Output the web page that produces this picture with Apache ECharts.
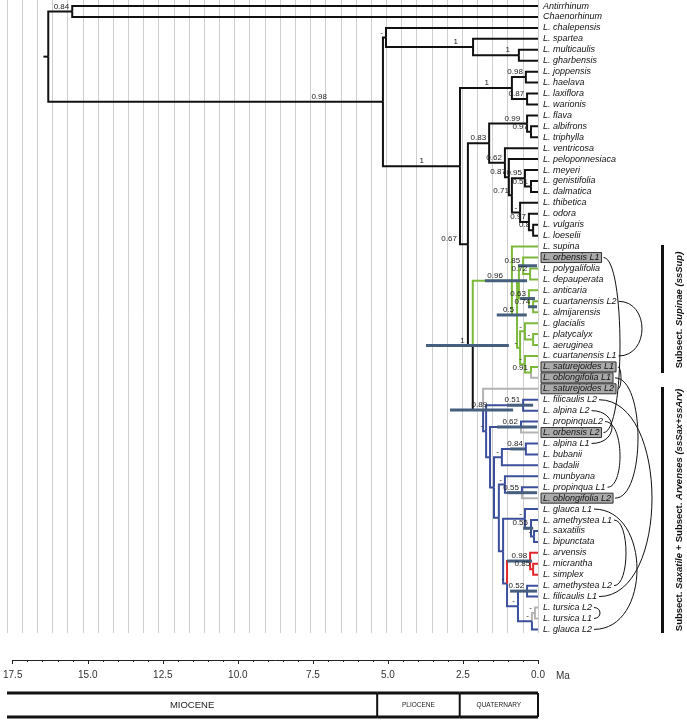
<!DOCTYPE html>
<html><head><meta charset="utf-8">
<script src="https://cdn.jsdelivr.net/npm/echarts@6/dist/echarts.min.js"></script>
<style>html,body{margin:0;padding:0;background:#fff}#c{width:687px;height:722px}</style>
</head><body><div id="c"></div>
<script>
// ---------------- DATA ----------------
const tipNames = ['Antirrhinum','Chaenorhinum','L. chalepensis','L. spartea','L. multicaulis','L. gharbensis','L. joppensis','L. haelava','L. laxiflora','L. warionis','L. flava','L. albifrons','L. triphylla','L. ventricosa','L. peloponnesiaca','L. meyeri','L. genistifolia','L. dalmatica','L. thibetica','L. odora','L. vulgaris','L. loeselii','L. supina','L. orbensis L1','L. polygalifolia','L. depauperata','L. anticaria','L. cuartanensis L2','L. almijarensis','L. glacialis','L. platycalyx','L. aeruginea','L. cuartanensis L1','L. saturejoides L1','L. oblongifolia L1','L. saturejoides L2','L. filicaulis L2','L. alpina L2','L. propinquaL2','L. orbensis L2','L. alpina L1','L. bubanii','L. badalii','L. munbyana','L. propinqua L1','L. oblongifolia L2','L. glauca L1','L. amethystea L1','L. saxatilis','L. bipunctata','L. arvensis','L. micrantha','L. simplex','L. amethystea L2','L. filicaulis L1','L. tursica L2','L. tursica L1','L. glauca L2'];
const boxedTips = [23,33,34,35,39,45];
// internal nodes: [id, first child, second child, age (Ma)]; numeric children are tip indices
const nodes = [
 ['root','B','C',16.14], ['B',0,1,15.35], ['C','D','E',5.11], ['D',2,'F',5.01], ['F',3,'G',2.14], ['G',4,5,0.63],
 ['E','H','J',2.57], ['H','H1','H2',0.86], ['H1',6,7,0.40], ['H2',8,9,0.36],
 ['J','K','L',2.31], ['K','FAT','M',1.61], ['FAT',10,'AT',0.36], ['AT',11,12,0.23],
 ['M',13,'P',1.09], ['P',14,'Q',0.96], ['Q','R','S',0.86], ['R',15,'T',0.43], ['T',16,17,0.23],
 ['S',18,'U',0.59], ['U',19,'V',0.30], ['V',20,21,0.16],
 ['L','G0','N0',2.15], ['G0',22,'X',0.86], ['X','A13','A4',0.69], ['A13','A1','A3',0.63],
 ['A1',23,'A1b',0.49], ['A1b',24,25,0.26], ['A3',26,'A3b',0.30], ['A3b',27,28,0.16],
 ['A4','A4a','A4b',0.59], ['A4a',29,'A4a2',0.43], ['A4a2',30,31,0.16], ['A4b',32,'A4b2',0.43], ['A4b2',33,34,0.23],
 ['N0',35,'N1',1.81], ['N1','B2','N2',1.71], ['B2',36,37,0.49], ['N2','B4','N3',1.58], ['B4',38,39,0.56],
 ['N3','Q1','N4',1.45], ['Q1','B6',42,1.19], ['B6',40,41,0.40], ['N4','Q2','N5',1.29], ['Q2',43,'B8',1.09], ['B8',44,45,0.53],
 ['N5','GA','W2',1.15], ['GA',46,'AM',0.43], ['AM',47,'SB',0.23], ['SB',48,49,0.13],
 ['W2','AR','W1',1.02], ['AR',50,'RS',0.26], ['RS',51,52,0.16], ['W1','B13','TG',0.66], ['B13',53,54,0.36], ['TG','TT',57,0.20], ['TT',55,56,0.10]
];
const rootStemAge = 16.30;
const support = {B:'0.84',C:'0.98',D:'-',F:'1',G:'1',E:'1',H:'1',H1:'0.98',H2:'0.87',J:'0.67',K:'0.83',FAT:'0.99',AT:'0.97',
 M:'0.62',P:'0.87',Q:'0.71',R:'0.95',T:'0.51',S:'-',U:'0.97',V:'0.8',L:'1',G0:'0.96',X:'0.5',A1:'0.85',A1b:'0.72',A3:'0.63',A3b:'0.74',
 A4:'-',A4a:'-',A4a2:'-',A4b:'-',A4b2:'0.91',N0:'0.89',N1:'-',B2:'0.51',B4:'0.62',Q1:'-',B6:'0.84',Q2:'-',B8:'0.55',GA:'-',AM:'0.55',SB:'-',
 W2:'-',AR:'0.98',RS:'0.85',W1:'-',B13:'0.52',TG:'-',TT:'-'};
// 95% HPD bars: [node, older bound (Ma), younger bound (Ma)]
const hpdBars = [['L',3.69,0.96],['G0',1.75,0.36],['X',1.36,0.37],['A1',0.66,0.03],['A3',0.59,0.10],['A3b',0.33,0.03],
 ['N0',2.90,0.82],['B2',1.02,0.16],['B4',1.35,0.03],['B6',0.92,0.43],['B8',1.02,0.03],['AM',0.49,0.16],['AR',1.02,0.20],['B13',0.92,0.03]];
// pairs of accessions of the same species
const arcPairs = [[23,39],[27,32],[33,35],[34,45],[36,54],[37,40],[38,44],[46,57],[47,53],[55,56]];
const epochNames = ['MIOCENE','PLIOCENE','QUATERNARY'];
const epochStart = [17.5,5.3,2.58];
const epochEnd = [5.3,2.58,0];

// ---------------- STYLE ----------------
const COL = {black:'#111111', gray:'#b4b4b4', green:'#7cb83a', blue:'#3c4f9c', red:'#e3262b'};
const greenSet = ['G0','X','A13','A1','A1b','A3','A3b','A4','A4a','A4a2','A4b','A4b2',22,23,24,25,26,27,28,29,30,31,32,33];
const graySet = [34,35,39,45,55,56,'TT'];
const redSet = ['AR','RS',50,51,52];
const blueSet = ['N1','B2','N2','B4','N3','Q1','B6','N4','Q2','B8','N5','GA','AM','SB','W2','W1','B13','TG',36,37,38,40,41,42,43,44,46,47,48,49,53,54,57];
const labelDx = {C:56,E:36,F:15,G:9,H:23,J:11,L:8,G0:9,N0:-4,FAT:7};
const arcReach = [620,642,621,638,652,612,620,637,626,600];
const FONT = '"Liberation Sans", Arial, sans-serif';

// ---------------- LAYOUT (from data) ----------------
const key = c => typeof c === 'number' ? 't' + c : c;
const pos = {};
tipNames.forEach((n, i) => pos['t' + i] = {age: 0, y: i});
const nodeMap = {}; nodes.forEach(n => nodeMap[n[0]] = n);
const parentOf = {};
nodes.forEach(n => { parentOf[key(n[1])] = n[0]; parentOf[key(n[2])] = n[0]; });
function place(id) {
  if (pos[id]) return pos[id];
  const n = nodeMap[id];
  const a = place(key(n[1])), b = place(key(n[2]));
  pos[id] = {age: n[3], y: (a.y + b.y) / 2};
  return pos[id];
}
place('root');
const colorOf = {};
greenSet.forEach(k => colorOf[key(k)] = 'green');
graySet.forEach(k => colorOf[key(k)] = 'gray');
redSet.forEach(k => colorOf[key(k)] = 'red');
blueSet.forEach(k => colorOf[key(k)] = 'blue');
const branchGroups = {black: [], gray: [], green: [], blue: [], red: []};
Object.keys(parentOf).forEach(id => {
  const p = pos[parentOf[id]], c = pos[id];
  branchGroups[colorOf[id] || 'black'].push([c.age, c.y, p.age, p.y]);
});
branchGroups.black.push([pos.root.age, pos.root.y, rootStemAge, pos.root.y]);

const mctx = document.createElement('canvas').getContext('2d');
mctx.font = 'italic 9px ' + FONT;
const tipW = tipNames.map(t => mctx.measureText(t).width);

function branchSeries(name) {
  return {
    type: 'custom', xAxisIndex: 0, yAxisIndex: 0, clip: false, z: 2,
    data: branchGroups[name],
    renderItem: (params, api) => {
      const c = api.coord([api.value(0), api.value(1)]);
      const p = api.coord([api.value(2), api.value(3)]);
      return {type: 'polyline', shape: {points: [[p[0], p[1]], [p[0], c[1]], [c[0], c[1]]]},
        style: {stroke: COL[name], lineWidth: 2, fill: null, lineJoin: 'miter'}};
    }
  };
}

const supportKeys = Object.keys(support);
const option = {
  animation: false,
  backgroundColor: '#ffffff',
  grid: [
    {left: 7, right: 149, top: 0, height: 633},
    {left: 7, right: 149, top: 655, height: 5},
    {left: 7, right: 149, top: 693, height: 24}
  ],
  xAxis: [
    {gridIndex: 0, type: 'value', min: 0, max: 17.5, interval: 0.5, inverse: true,
     axisLine: {show: false}, axisTick: {show: false}, axisLabel: {show: false},
     splitLine: {show: true, lineStyle: {color: '#cfcfcf', width: 1}}},
    {gridIndex: 1, type: 'value', min: 0, max: 17.5, interval: 2.5, inverse: true,
     axisLine: {lineStyle: {color: '#222', width: 1}},
     axisTick: {length: 4, lineStyle: {color: '#222'}},
     minorTick: {show: true, splitNumber: 5, length: 2, lineStyle: {color: '#222'}},
     axisLabel: {formatter: v => v.toFixed(1), fontSize: 10, color: '#333', margin: 10, fontFamily: FONT},
     splitLine: {show: false}},
    {gridIndex: 2, type: 'value', min: 0, max: 17.5, inverse: true, show: false}
  ],
  yAxis: [
    {gridIndex: 0, type: 'value', min: -0.55, max: 57.33, inverse: true, show: false},
    {gridIndex: 1, type: 'value', min: 0, max: 1, show: false},
    {gridIndex: 2, type: 'value', min: 0, max: 1, show: false}
  ],
  series: [
    branchSeries('black'), branchSeries('gray'), branchSeries('green'), branchSeries('blue'), branchSeries('red'),
    { // HPD bars
      type: 'custom', xAxisIndex: 0, yAxisIndex: 0, clip: false, z: 3,
      data: hpdBars.map(b => [b[1], pos[b[0]].y, b[2]]),
      renderItem: (params, api) => {
        const a = api.coord([api.value(0), api.value(1)]);
        const b = api.coord([api.value(2), api.value(1)]);
        return {type: 'line', shape: {x1: a[0], y1: a[1], x2: b[0], y2: b[1]},
          style: {stroke: '#465f7e', lineWidth: 3}};
      }
    },
    { // support values
      type: 'custom', xAxisIndex: 0, yAxisIndex: 0, clip: false, z: 4,
      data: supportKeys.map(k => [pos[k].age, pos[k].y]),
      renderItem: (params, api) => {
        const k = supportKeys[params.dataIndex];
        const p = api.coord([api.value(0), api.value(1)]);
        const dx = labelDx[k] !== undefined ? labelDx[k] : 3;
        return {type: 'text', style: {text: support[k], x: p[0] - dx, y: p[1] - 1,
          align: 'right', verticalAlign: 'bottom', fontSize: 8, fontFamily: FONT, fill: '#222'}};
      }
    },
    { // tip labels
      type: 'custom', xAxisIndex: 0, yAxisIndex: 0, clip: false, z: 4,
      data: tipNames.map((t, i) => [0, i]),
      renderItem: (params, api) => {
        const i = params.dataIndex;
        const p = api.coord([0, api.value(1)]);
        const x = p[0] + 5, y = p[1];
        const ch = [];
        if (boxedTips.indexOf(i) >= 0) {
          ch.push({type: 'rect', shape: {x: x - 2, y: y - 5, width: tipW[i] + 4, height: 10},
            style: {fill: '#a9a9a9', stroke: '#333', lineWidth: 1}});
        }
        ch.push({type: 'text', style: {text: tipNames[i], x: x, y: y, align: 'left', verticalAlign: 'middle',
          fontSize: 9, fontStyle: 'italic', fontFamily: FONT, fill: '#111'}});
        return {type: 'group', children: ch};
      }
    },
    { // arcs linking accessions of one species
      type: 'custom', xAxisIndex: 0, yAxisIndex: 0, clip: false, z: 3,
      data: arcPairs.map(p => [0, p[0], 0, p[1]]),
      renderItem: (params, api) => {
        const idx = params.dataIndex;
        const a = arcPairs[idx][0], b = arcPairs[idx][1];
        const pa = api.coord([0, api.value(1)]), pb = api.coord([0, api.value(3)]);
        const xa = pa[0] + 5 + tipW[a] + (boxedTips.indexOf(a) >= 0 ? 4 : 2);
        const xb = pb[0] + 5 + tipW[b] + (boxedTips.indexOf(b) >= 0 ? 4 : 2);
        const c = (arcReach[idx] - (xa + xb) / 8) / 0.75;
        return {type: 'bezierCurve', shape: {x1: xa, y1: pa[1], x2: xb, y2: pb[1], cpx1: c, cpy1: pa[1], cpx2: c, cpy2: pb[1]},
          style: {stroke: '#111', lineWidth: 1, fill: null}};
      }
    },
    { // geological epochs
      type: 'custom', xAxisIndex: 2, yAxisIndex: 2, clip: false, z: 2,
      data: epochNames.map((n, i) => [epochStart[i], 1, epochEnd[i], 0]),
      renderItem: (params, api) => {
        const i = params.dataIndex;
        const a = api.coord([api.value(0), api.value(1)]);
        const b = api.coord([api.value(2), api.value(3)]);
        const ch = [
          {type: 'line', shape: {x1: a[0], y1: a[1], x2: b[0], y2: a[1]}, style: {stroke: '#111', lineWidth: 3}},
          {type: 'line', shape: {x1: a[0], y1: b[1], x2: b[0], y2: b[1]}, style: {stroke: '#111', lineWidth: 3}},
          {type: 'line', shape: {x1: b[0], y1: a[1], x2: b[0], y2: b[1]}, style: {stroke: '#111', lineWidth: 2}},
          {type: 'text', style: {text: epochNames[i], x: (a[0] + b[0]) / 2, y: (a[1] + b[1]) / 2,
            align: 'center', verticalAlign: 'middle', fontSize: i === 0 ? 9.5 : 6.5, fontFamily: FONT, fill: '#222'}}
        ];
        return {type: 'group', children: ch};
      }
    }
  ],
  graphic: [
    {type: 'text', left: 556, top: 671, style: {text: 'Ma', fontSize: 10, fontFamily: FONT, fill: '#333'}},
    {type: 'rect', shape: {x: 661, y: 245, width: 3, height: 128}, style: {fill: '#111'}},
    {type: 'rect', shape: {x: 661, y: 387, width: 3, height: 246}, style: {fill: '#111'}},
    {type: 'text', x: 679, y: 310, rotation: Math.PI / 2,
     style: {text: '{b|Subsect. }{bi|Supinae}{bi| (ssSup)}', align: 'center', verticalAlign: 'middle',
       rich: {b: {fontWeight: 'bold', fontSize: 9.5, fontFamily: FONT, fill: '#111'},
              bi: {fontWeight: 'bold', fontStyle: 'italic', fontSize: 9.5, fontFamily: FONT, fill: '#111'}}}},
    {type: 'text', x: 679, y: 510, rotation: Math.PI / 2,
     style: {text: '{b|Subsect. }{bi|Saxatile}{b| + Subsect. }{bi|Arvenses (ssSax+ssArv)}', align: 'center', verticalAlign: 'middle',
       rich: {b: {fontWeight: 'bold', fontSize: 9.5, fontFamily: FONT, fill: '#111'},
              bi: {fontWeight: 'bold', fontStyle: 'italic', fontSize: 9.5, fontFamily: FONT, fill: '#111'}}}}
  ]
};
const chart = echarts.init(document.getElementById('c'));
chart.setOption(option);
</script>
</body></html>
